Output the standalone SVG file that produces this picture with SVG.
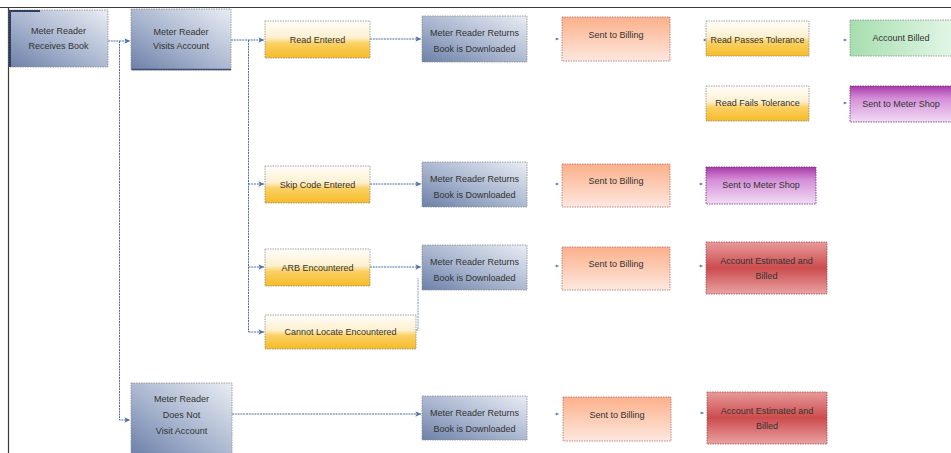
<svg xmlns="http://www.w3.org/2000/svg" width="951" height="453" viewBox="0 0 951 453">
  <defs>
    <linearGradient id="gBlue" x1="0" y1="1" x2="1" y2="0">
      <stop offset="0" stop-color="#6c80a8"/>
      <stop offset="0.45" stop-color="#a7b4ce"/>
      <stop offset="1" stop-color="#e9edf4"/>
    </linearGradient>
    <linearGradient id="gYellow" x1="0" y1="0" x2="0" y2="1">
      <stop offset="0" stop-color="#fffefa"/>
      <stop offset="0.45" stop-color="#fdf0cf"/>
      <stop offset="0.6" stop-color="#fbd166"/>
      <stop offset="1" stop-color="#f6bb26"/>
    </linearGradient>
    <linearGradient id="gPeach" x1="0" y1="0" x2="0" y2="1">
      <stop offset="0" stop-color="#fcb08a"/>
      <stop offset="1" stop-color="#fde8df"/>
    </linearGradient>
    <linearGradient id="gGreen" x1="0" y1="0" x2="1" y2="0">
      <stop offset="0" stop-color="#a6deae"/>
      <stop offset="1" stop-color="#e2f6e6"/>
    </linearGradient>
    <linearGradient id="gPurple" x1="0" y1="0" x2="0" y2="1">
      <stop offset="0" stop-color="#a83aa8"/>
      <stop offset="0.35" stop-color="#d48fd8"/>
      <stop offset="1" stop-color="#f2dcf4"/>
    </linearGradient>
    <linearGradient id="gRed" x1="0" y1="0" x2="0" y2="1">
      <stop offset="0" stop-color="#e89a9a"/>
      <stop offset="0.5" stop-color="#cc4c4e"/>
      <stop offset="1" stop-color="#e9a2a2"/>
    </linearGradient>
    <marker id="arr" viewBox="0 0 10 10" refX="9" refY="5" markerWidth="7" markerHeight="7" orient="auto" markerUnits="userSpaceOnUse">
      <path d="M1,1 L9,5 L1,9 L3,5 Z" fill="#4a6ea8"/>
    </marker>
    <marker id="tick" viewBox="0 0 10 10" refX="9" refY="5" markerWidth="4" markerHeight="4" orient="auto" markerUnits="userSpaceOnUse">
      <path d="M1,1 L9,5 L1,9 Z" fill="#6a86b8"/>
    </marker>
  </defs>
  <style>
    .box { stroke: #8e8e8e; stroke-width: 0.8; stroke-dasharray: 1.5 1; }
    .blue { fill: url(#gBlue); }
    .yellow { fill: url(#gYellow); }
    .peach { fill: url(#gPeach); stroke: #b07070; }
    .green { fill: url(#gGreen); }
    .purple { fill: url(#gPurple); stroke: #7a2a7a; }
    .red { fill: url(#gRed); stroke: #a05050; }
    .shade { fill: none; stroke: #2d3f62; stroke-width: 2; }
    text { font-family: "Liberation Sans", Arial, sans-serif; font-size: 9px; fill: #333331; text-anchor: middle; }
    .conn { fill: none; stroke: #4a6ea8; stroke-width: 1; stroke-dasharray: 2 0.8; }
    .ticks path { fill: none; stroke: #9fb0cc; stroke-width: 0.6; }
    .frame { stroke: #3a3a3a; stroke-width: 1.2; fill: none; }
  </style>

  <rect width="951" height="453" fill="#ffffff"/>

  <!-- page frame -->
  <path class="frame" d="M0,7.5 H951 M8.5,7.5 V453"/>

  <!-- connectors -->
  <g id="connectors">
    <path class="conn" d="M108,41 H130" marker-end="url(#arr)"/>
    <path class="conn" d="M119.5,41 V420 H130" marker-end="url(#arr)"/>
    <path class="conn" d="M231,40 H264" marker-end="url(#arr)"/>
    <path class="conn" d="M248.5,40 V332"/>
    <path class="conn" d="M248.5,184 H264" marker-end="url(#arr)"/>
    <path class="conn" d="M248.5,267 H264" marker-end="url(#arr)"/>
    <path class="conn" d="M248.5,332 H264" marker-end="url(#arr)"/>
    <path class="conn" d="M370,39 H421" marker-end="url(#arr)"/>
    <path class="conn" d="M370,184 H421" marker-end="url(#arr)"/>
    <path class="conn" d="M370,267 H421" marker-end="url(#arr)"/>
    <path class="conn" d="M416,330 H418 V278" style="stroke-width:0.7"/>
    <path class="conn" d="M232,414 H421" marker-end="url(#arr)"/>
    <g class="ticks">
      <path d="M555,39 H559" marker-end="url(#tick)"/>
      <path d="M703,40 H707" marker-end="url(#tick)"/>
      <path d="M843,40 H847" marker-end="url(#tick)"/>
      <path d="M843,103 H847" marker-end="url(#tick)"/>
      <path d="M555,184 H559" marker-end="url(#tick)"/>
      <path d="M699,184 H703" marker-end="url(#tick)"/>
      <path d="M555,266 H559" marker-end="url(#tick)"/>
      <path d="M699,266 H703" marker-end="url(#tick)"/>
      <path d="M555,414 H559" marker-end="url(#tick)"/>
      <path d="M700,413 H704" marker-end="url(#tick)"/>
    </g>
  </g>

  <!-- column 1 -->
  <g id="receives-book">
    <rect class="box blue" x="9" y="10" width="99" height="57"/>
    <path class="shade" d="M10,67 V11 H40"/>
    <text x="58.5" y="34">Meter Reader</text>
    <text x="58.5" y="49">Receives Book</text>
  </g>
  <g id="visits-account">
    <rect class="box blue" x="131" y="9" width="100" height="61"/>
    <path class="shade" d="M132,69.5 H231" style="stroke:#3c4f72;stroke-width:1.5"/>
    <text x="181" y="35">Meter Reader</text>
    <text x="181" y="49">Visits Account</text>
  </g>
  <g id="does-not-visit">
    <rect class="box blue" x="131" y="383" width="101" height="72"/>
    <text x="181.5" y="402">Meter Reader</text>
    <text x="181.5" y="418">Does Not</text>
    <text x="181.5" y="434">Visit Account</text>
  </g>

  <!-- column 2 -->
  <g id="read-entered">
    <rect class="box yellow" x="265" y="21" width="105" height="37"/>
    <text x="317.5" y="43">Read Entered</text>
  </g>
  <g id="skip-code">
    <rect class="box yellow" x="265" y="166" width="105" height="37"/>
    <text x="317.5" y="188">Skip Code Entered</text>
  </g>
  <g id="arb">
    <rect class="box yellow" x="265" y="249" width="105" height="37"/>
    <text x="317.5" y="271">ARB Encountered</text>
  </g>
  <g id="cannot-locate">
    <rect class="box yellow" x="265" y="315" width="151" height="34"/>
    <text x="340.5" y="335">Cannot Locate Encountered</text>
  </g>

  <!-- column 3 -->
  <g id="returns-1">
    <rect class="box blue" x="422" y="16" width="105" height="46"/>
    <text x="474.5" y="36">Meter Reader Returns</text>
    <text x="474.5" y="52">Book is Downloaded</text>
  </g>
  <g id="returns-2">
    <rect class="box blue" x="422" y="162" width="105" height="45"/>
    <text x="474.5" y="182">Meter Reader Returns</text>
    <text x="474.5" y="198">Book is Downloaded</text>
  </g>
  <g id="returns-3">
    <rect class="box blue" x="422" y="245" width="105" height="45"/>
    <text x="474.5" y="265">Meter Reader Returns</text>
    <text x="474.5" y="281">Book is Downloaded</text>
  </g>
  <g id="returns-4">
    <rect class="box blue" x="422" y="396" width="105" height="44"/>
    <text x="474.5" y="416">Meter Reader Returns</text>
    <text x="474.5" y="432">Book is Downloaded</text>
  </g>

  <!-- column 4 -->
  <g id="billing-1">
    <rect class="box peach" x="562" y="17" width="108" height="44"/>
    <text x="616" y="38">Sent to Billing</text>
  </g>
  <g id="billing-2">
    <rect class="box peach" x="562" y="164" width="108" height="43"/>
    <text x="616" y="184">Sent to Billing</text>
  </g>
  <g id="billing-3">
    <rect class="box peach" x="562" y="247" width="108" height="43"/>
    <text x="616" y="267">Sent to Billing</text>
  </g>
  <g id="billing-4">
    <rect class="box peach" x="563" y="397" width="108" height="44"/>
    <text x="617" y="418">Sent to Billing</text>
  </g>

  <!-- column 5 -->
  <g id="passes-tolerance">
    <rect class="box yellow" x="706" y="21" width="103" height="35"/>
    <text x="757.5" y="43" textLength="94" lengthAdjust="spacingAndGlyphs">Read Passes Tolerance</text>
  </g>
  <g id="fails-tolerance">
    <rect class="box yellow" x="706" y="86" width="103" height="35"/>
    <text x="757.5" y="106">Read Fails Tolerance</text>
  </g>
  <g id="meter-shop-2">
    <rect class="box purple" x="706" y="167" width="110" height="37"/>
    <text x="761" y="188">Sent to Meter Shop</text>
  </g>
  <g id="estimated-1">
    <rect class="box red" x="706" y="242" width="121" height="52"/>
    <text x="766.5" y="264">Account Estimated and</text>
    <text x="766.5" y="279">Billed</text>
  </g>
  <g id="estimated-2">
    <rect class="box red" x="707" y="392" width="120" height="52"/>
    <text x="767" y="414">Account Estimated and</text>
    <text x="767" y="429">Billed</text>
  </g>

  <!-- column 6 -->
  <g id="account-billed">
    <rect class="box green" x="850" y="20" width="103" height="36"/>
    <text x="901" y="41">Account Billed</text>
  </g>
  <g id="meter-shop-1">
    <rect class="box purple" x="850" y="86" width="103" height="36"/>
    <text x="901" y="107">Sent to Meter Shop</text>
  </g>
</svg>
